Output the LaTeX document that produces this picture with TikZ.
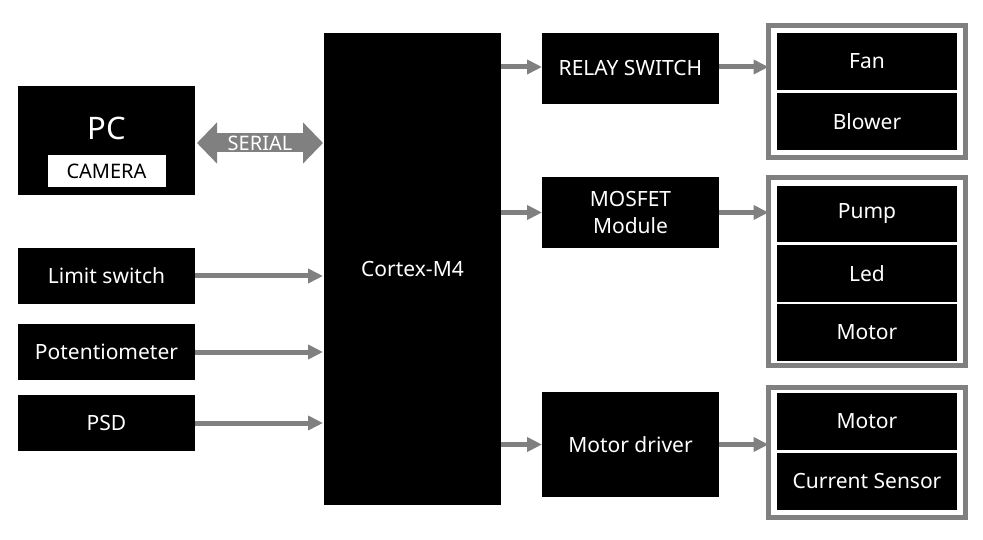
\documentclass[tikz,border=0pt]{standalone}
\usepackage{fontspec}
\setmainfont{Noto Sans}
\usetikzlibrary{arrows.meta,calc}
\definecolor{grayc}{HTML}{808080}
\begin{document}
\begin{tikzpicture}[x=1pt,y=-1pt,
  blk/.style={fill=black,text=white,inner sep=0pt,outer sep=0pt,align=center,font=\fontsize{21}{25}\selectfont},
  frm/.style={draw=grayc,line width=5pt,fill=white,inner sep=0pt,outer sep=0pt},
  arr/.style={draw=grayc,line width=5pt,-{Triangle[length=15pt,width=14pt]}},
  serial/.style={draw=grayc,line width=19pt,{Triangle[length=20pt,width=40pt]}-{Triangle[length=20pt,width=40pt]}}
]
\useasboundingbox[fill=white] (0,0) rectangle (983,540);
% left column
\node[blk,minimum width=177pt,minimum height=109pt] (pc) at (106.5,140.5) {};
\node[text=white,font=\fontsize{31}{34}\selectfont,inner sep=0pt] (pct) at (106.5,128) {PC};
\node[fill=white,minimum width=118pt,minimum height=32pt,inner sep=0pt,font=\fontsize{20}{22}\selectfont] (cam) at (106.5,171) {CAMERA};
\node[blk,minimum width=177pt,minimum height=56pt] (lim) at (106.5,276) {Limit switch};
\node[blk,minimum width=177pt,minimum height=56pt] (pot) at (106.5,352) {Potentiometer};
\node[blk,minimum width=177pt,minimum height=56pt] (psd) at (106.5,423) {PSD};
% center
\node[blk,minimum width=177pt,minimum height=472pt] (cpu) at (412.5,269) {Cortex-M4};
% middle right
\node[blk,minimum width=177pt,minimum height=71pt] (relay) at (630.5,68.5) {RELAY SWITCH};
\node[blk,minimum width=177pt,minimum height=71pt,font=\fontsize{21}{27}\selectfont] (mos) at (630.5,212.5) {MOSFET\\Module};
\node[blk,minimum width=177pt,minimum height=105pt] (mdrv) at (630.5,444.5) {Motor driver};
% groups
\node[frm,minimum width=197pt,minimum height=132pt] (g1) at (867,91.5) {};
\node[blk,minimum width=180pt,minimum height=57pt] (fan) at (867,61.5) {Fan};
\node[blk,minimum width=180pt,minimum height=57pt] (blow) at (867,121.5) {Blower};
\node[frm,minimum width=197pt,minimum height=188pt] (g2) at (867,271.5) {};
\node[blk,minimum width=180pt,minimum height=56pt] (pump) at (867,214) {Pump};
\node[blk,minimum width=180pt,minimum height=57pt] (led) at (867,273.5) {Led};
\node[blk,minimum width=180pt,minimum height=57pt] (mot1) at (867,332.5) {Motor};
\node[frm,minimum width=197pt,minimum height=130pt] (g3) at (867,452.5) {};
\node[blk,minimum width=180pt,minimum height=57pt] (mot2) at (867,421.5) {Motor};
\node[blk,minimum width=180pt,minimum height=57pt] (cs) at (867,481.5) {Current Sensor};
% connectors
\draw[serial] ([xshift=2pt,yshift=-2.5pt]pc.east) -- ([xshift=-1pt,yshift=-2.5pt]pc.east -| cpu.west)
  node[midway,text=white,font=\fontsize{20}{22}\selectfont] (ser) {SERIAL};
\draw[arr] (lim.east) -- ([xshift=-1pt]lim.east -| cpu.west);
\draw[arr] (pot.east) -- ([xshift=-1pt]pot.east -| cpu.west);
\draw[arr] (psd.east) -- ([xshift=-1pt]psd.east -| cpu.west);
\draw[arr] ([yshift=1.5pt]relay.west -| cpu.east) -- ([yshift=1.5pt]relay.west);
\draw[arr] (mos.west -| cpu.east) -- (mos.west);
\draw[arr] (mdrv.west -| cpu.east) -- (mdrv.west);
\draw[arr] ([yshift=1.5pt]relay.east) -- ([yshift=1.5pt]relay.east -| g1.west);
\draw[arr] (mos.east) -- (mos.east -| g2.west);
\draw[arr] (mdrv.east) -- (mdrv.east -| g3.west);
\end{tikzpicture}
\end{document}
